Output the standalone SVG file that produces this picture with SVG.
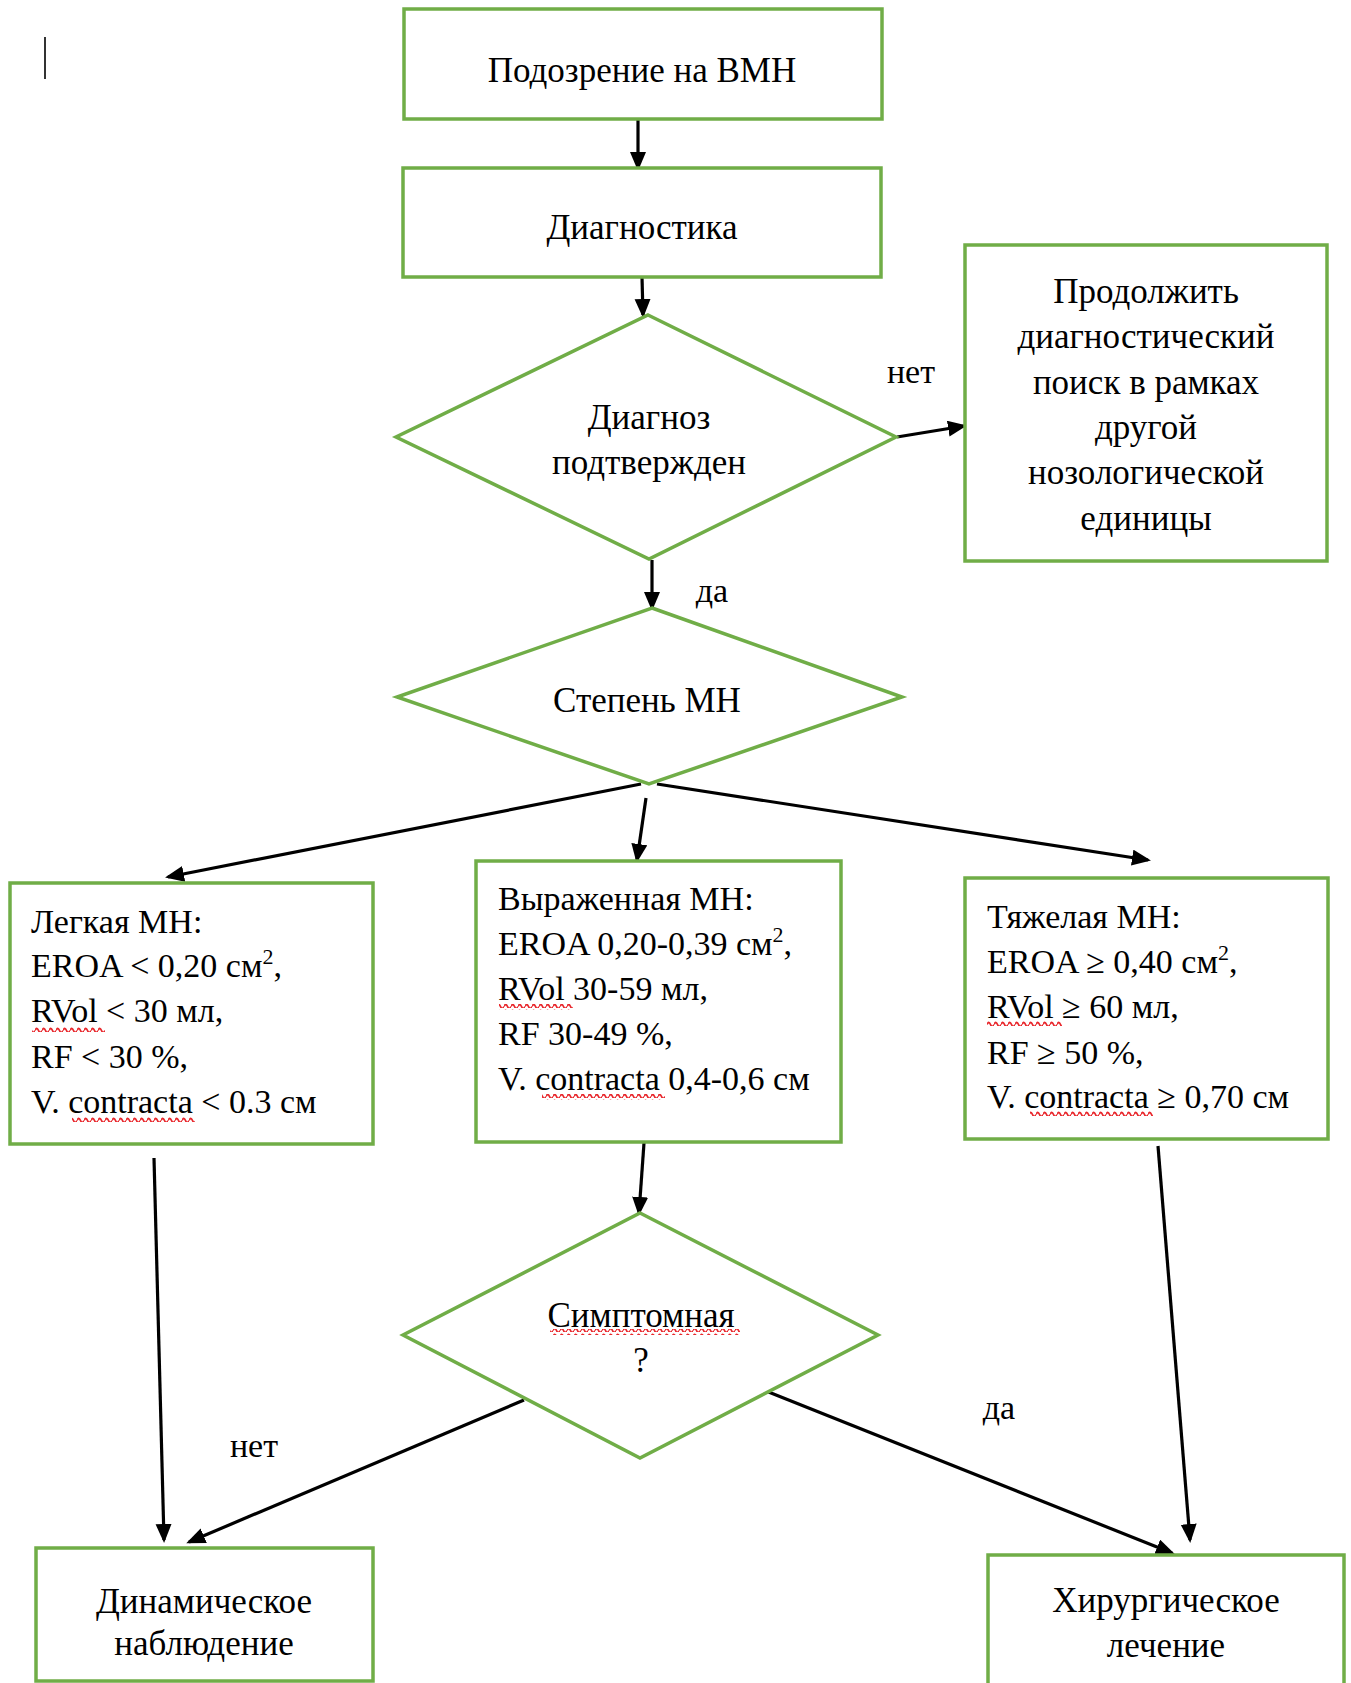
<svg xmlns="http://www.w3.org/2000/svg" width="1351" height="1683" viewBox="0 0 1351 1683">
<style>
.box{fill:#fff;stroke:#70AD47;stroke-width:3.5}
.dia{fill:#fff;stroke:#70AD47;stroke-width:3.5}
.t{font-family:"Liberation Serif","Times New Roman",serif;font-size:35px;fill:#000}
.c{text-anchor:middle}
.s{font-family:"Liberation Serif","Times New Roman",serif;font-size:34px;fill:#000}
.con{stroke:#000;stroke-width:3.2;fill:none;marker-end:url(#ah)}
.wv{fill:url(#wave)}
</style>
<defs>
<marker id="ah" markerUnits="userSpaceOnUse" markerWidth="22" markerHeight="18" refX="16" refY="8" orient="auto">
<path d="M0,0 L19,8 L0,16 z" fill="#000"/>
</marker>
<pattern id="wave" patternUnits="userSpaceOnUse" width="7" height="6">
<path d="M0,4.5 Q1.75,0.5 3.5,4.5 T7,4.5" fill="none" stroke="#e8262b" stroke-width="1.8"/>
</pattern>
</defs>
<line x1="45" y1="37" x2="45" y2="79" stroke="#333" stroke-width="2"/>
<g id="connectors">
<line class="con" x1="638" y1="119" x2="638" y2="168"/>
<line class="con" x1="642" y1="277" x2="643" y2="315"/>
<line class="con" x1="897" y1="437" x2="964" y2="426"/>
<line class="con" x1="652" y1="560" x2="652" y2="608"/>
<line class="con" x1="641" y1="784" x2="168" y2="877"/>
<line class="con" x1="646" y1="798" x2="637" y2="860"/>
<line class="con" x1="657" y1="784" x2="1148" y2="860"/>
<line class="con" x1="644" y1="1143" x2="639" y2="1213"/>
<line class="con" x1="154" y1="1158" x2="164" y2="1540"/>
<line class="con" x1="524" y1="1400" x2="189" y2="1542"/>
<line class="con" x1="766" y1="1391" x2="1172" y2="1553"/>
<line class="con" x1="1158" y1="1146" x2="1190" y2="1540"/>
</g>
<g id="labels">
<text class="s c" x="911" y="383">нет</text>
<text class="s c" x="712" y="602">да</text>
<text class="s c" x="254" y="1457">нет</text>
<text class="s c" x="999" y="1419">да</text>
</g>
<g id="n1"><rect class="box" x="404" y="9" width="478" height="110"/><text class="t c" x="642" y="82">Подозрение на ВМН</text></g>
<g id="n2"><rect class="box" x="403" y="168" width="478" height="109"/><text class="t c" x="642" y="239">Диагностика</text></g>
<g id="n3"><polygon class="dia" points="648,315 896,437 649,559 396,437"/><text class="t c" x="649" y="429">Диагноз</text><text class="t c" x="649" y="474">подтвержден</text></g>
<g id="n4"><rect class="box" x="965" y="245" width="362" height="316"/>
<text class="t c" x="1146" y="303">Продолжить</text>
<text class="t c" x="1146" y="348">диагностический</text>
<text class="t c" x="1146" y="394">поиск в рамках</text>
<text class="t c" x="1146" y="439">другой</text>
<text class="t c" x="1146" y="484">нозологической</text>
<text class="t c" x="1146" y="530">единицы</text></g>
<g id="n5"><polygon class="dia" points="652,608 902,697 649,784 397,697"/><text class="t c" x="647" y="712">Степень МН</text></g>
<g id="n6"><rect class="box" x="10" y="883" width="363" height="261"/>
<text class="s" x="31" y="933">Легкая МН:</text>
<text class="s" x="31" y="977">EROA &lt; 0,20 см<tspan dy="-13" font-size="22">2</tspan><tspan dy="13">,</tspan></text>
<text class="s" x="31" y="1022">RVol &lt; 30 мл,</text>
<text class="s" x="31" y="1068">RF &lt; 30 %,</text>
<text class="s" x="31" y="1113">V. contracta &lt; 0.3 см</text>
<rect class="wv" x="32" y="1026" width="73" height="6"/>
<rect class="wv" x="72" y="1116" width="123" height="6"/></g>
<g id="n7"><rect class="box" x="476" y="861" width="365" height="281"/>
<text class="s" x="498" y="910">Выраженная МН:</text>
<text class="s" x="498" y="955">EROA 0,20-0,39 см<tspan dy="-13" font-size="22">2</tspan><tspan dy="13">,</tspan></text>
<text class="s" x="498" y="1000">RVol 30-59 мл,</text>
<text class="s" x="498" y="1045">RF 30-49 %,</text>
<text class="s" x="498" y="1090">V. contracta 0,4-0,6 см</text>
<rect class="wv" x="499" y="1004" width="74" height="6"/>
<rect class="wv" x="542" y="1094" width="123" height="6"/></g>
<g id="n8"><rect class="box" x="965" y="878" width="363" height="261"/>
<text class="s" x="987" y="928">Тяжелая МН:</text>
<text class="s" x="987" y="973">EROA ≥ 0,40 см<tspan dy="-13" font-size="22">2</tspan><tspan dy="13">,</tspan></text>
<text class="s" x="987" y="1018">RVol ≥ 60 мл,</text>
<text class="s" x="987" y="1064">RF ≥ 50 %,</text>
<text class="s" x="987" y="1108">V. contracta ≥ 0,70 см</text>
<rect class="wv" x="987" y="1021" width="75" height="6"/>
<rect class="wv" x="1030" y="1111" width="123" height="6"/></g>
<g id="n9"><polygon class="dia" points="640,1213 878,1335 640,1458 403,1335"/>
<text class="t c" x="641" y="1327">Симптомная</text>
<text class="t c" x="641" y="1372">?</text>
<rect class="wv" x="550" y="1329" width="190" height="6"/></g>
<g id="n10"><rect class="box" x="36" y="1548" width="337" height="133"/>
<text class="t c" x="204" y="1613">Динамическое</text>
<text class="t c" x="204" y="1655">наблюдение</text></g>
<g id="n11"><rect class="box" x="988" y="1555" width="356" height="150"/>
<text class="t c" x="1166" y="1612">Хирургическое</text>
<text class="t c" x="1166" y="1657">лечение</text></g>
</svg>
